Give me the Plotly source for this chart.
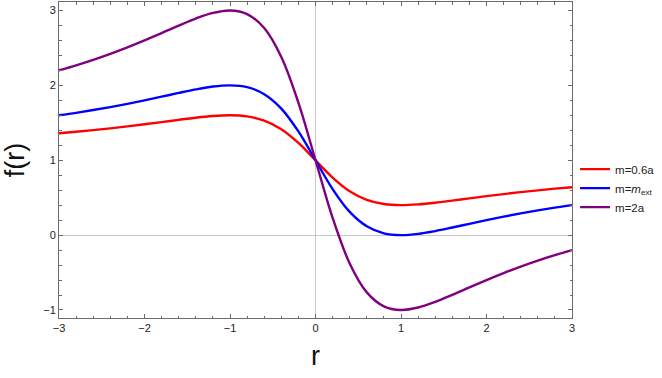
import plotly.graph_objects as go

# ── data ────────────────────────────────────────────────────
r = [-3.0, -2.8, -2.6, -2.4, -2.2, -2.0, -1.8, -1.6, -1.4, -1.2, -1.0, -0.8, -0.6, -0.4, -0.2,
     0.0, 0.2, 0.4, 0.6, 0.8, 1.0, 1.2, 1.4, 1.6, 1.8, 2.0, 2.2, 2.4, 2.6, 2.8, 3.0]

f_m06 = [1.36, 1.38, 1.402, 1.426, 1.452, 1.48, 1.509, 1.539, 1.568, 1.59, 1.6, 1.585, 1.529,
         1.414, 1.231, 1.0, 0.769, 0.586, 0.471, 0.415, 0.4, 0.41, 0.432, 0.461, 0.491, 0.52,
         0.548, 0.574, 0.598, 0.62, 0.64]

f_mext = [1.6, 1.633, 1.67, 1.71, 1.753, 1.8, 1.849, 1.899, 1.946, 1.984, 2.0, 1.976, 1.882,
          1.69, 1.385, 1.0, 0.615, 0.31, 0.118, 0.024, 0.0, 0.016, 0.054, 0.101, 0.151, 0.2,
          0.247, 0.29, 0.33, 0.367, 0.4]

f_m2 = [2.2, 2.267, 2.34, 2.42, 2.507, 2.6, 2.698, 2.798, 2.892, 2.967, 3.0, 2.951, 2.765,
        2.379, 1.769, 1.0, 0.231, -0.379, -0.765, -0.951, -1.0, -0.967, -0.892, -0.798, -0.698,
        -0.6, -0.507, -0.42, -0.34, -0.267, -0.2]

series = [
    ("m=0.6a", f_m06, "#ff0000"),
    ("m=<i>m</i><sub>ext</sub>", f_mext, "#0000ff"),
    ("m=2a", f_m2, "#800080"),
]

FRAME = "#6b6b6b"
FONT = "Liberation Sans, Arial, sans-serif"

fig = go.Figure()
for name, ys, color in series:
    fig.add_trace(go.Scatter(
        x=r, y=ys, name=name, mode="lines",
        line=dict(color=color, width=2.4, shape="spline", smoothing=1.0),
    ))

axis_common = dict(
    showline=True, linecolor=FRAME, linewidth=1, mirror="allticks",
    ticks="inside", ticklen=4, tickcolor=FRAME, tickwidth=1,
    minor=dict(ticks="inside", ticklen=2.5, tickcolor=FRAME, dtick=0.2, showgrid=False),
    showgrid=False, zeroline=True, zerolinecolor="#c8c8c8", zerolinewidth=1,
    tickfont=dict(family=FONT, size=11, color="#222222"),
    automargin=False,
)

fig.update_layout(
    width=662, height=378,
    paper_bgcolor="white", plot_bgcolor="white",
    margin=dict(l=59, r=90, t=2, b=60),
    font=dict(family=FONT, color="#222222"),
    xaxis=dict(axis_common, range=[-3, 3], dtick=1, tick0=0,
               title=dict(text="r", font=dict(size=27, color="#111111"), standoff=12)),
    yaxis=dict(axis_common, range=[-1.107, 3.113], dtick=1, tick0=0,
               title=dict(text="f(r)", font=dict(size=27, color="#111111"), standoff=10)),
    legend=dict(x=1.006, y=0.411, xanchor="left", yanchor="middle",
                font=dict(family=FONT, size=11.5, color="#222222"),
                bgcolor="rgba(0,0,0,0)"),
    showlegend=True,
)

# page body has an 8px default margin; drop it so the figure sits at the corner
fig.write_html("out.html", config={"displayModeBar": False},
               post_script="document.body.style.margin='0';")
